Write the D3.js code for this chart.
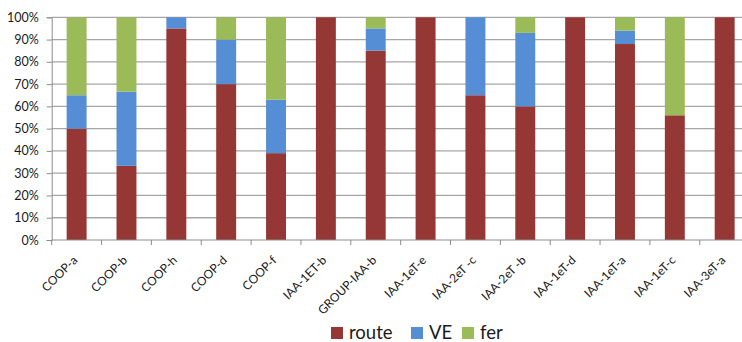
<!DOCTYPE html>
<html>
<head>
<meta charset="utf-8">
<script src="https://cdn.jsdelivr.net/npm/d3@7"></script>
<style>
  html, body { margin: 0; padding: 0; background: #fff; }
  svg { display: block; font-family: Lato, "Open Sans", sans-serif; }
</style>
</head>
<body>
<svg id="chart" width="742" height="342"></svg>
<script>
// Modal split per site (share of each mode, %)
const categories = ["COOP-a", "COOP-b", "COOP-h", "COOP-d", "COOP-f", "IAA-1ET-b", "GROUP-IAA-b",
  "IAA-1eT-e", "IAA-2eT -c", "IAA-2eT -b", "IAA-1eT-d", "IAA-1eT-a", "IAA-1eT-c", "IAA-3eT-a"];
const route = [50, 33.3, 95, 70, 39, 100, 85, 100, 65, 60, 100, 88, 56, 100];
const ve    = [15, 33.3, 5, 20, 24, 0, 10, 0, 35, 33, 0, 6, 0, 0];
const fer   = [35, 33.4, 0, 10, 37, 0, 5, 0, 0, 7, 0, 6, 44, 0];
const seriesNames = ["route", "VE", "fer"];
const seriesColors = ["#953735", "#558ED5", "#9BBB59"];
const yTicks = [0, 10, 20, 30, 40, 50, 60, 70, 80, 90, 100];

const svg = d3.select("#chart");
const plotLeft = 51.7, plotTop = 17.3, plotH = 222.7, plotW = 697.9;

const x = d3.scaleBand().domain(categories)
  .range([plotLeft, plotLeft + plotW]).paddingInner(0.6).paddingOuter(0.3);
const y = d3.scaleLinear().domain([0, 100]).range([plotTop + plotH, plotTop]);

// horizontal gridlines
svg.append("g").selectAll("line").data(yTicks.filter(t => t > 0)).join("line")
  .attr("x1", plotLeft).attr("x2", plotLeft + plotW)
  .attr("y1", d => y(d)).attr("y2", d => y(d))
  .attr("stroke", "#a6a6a6").attr("stroke-width", 1.3);

// stacked bars
const rows = categories.map((c, i) => ({ cat: c, route: route[i], VE: ve[i], fer: fer[i] }));
const stacked = d3.stack().keys(seriesNames)(rows);
svg.append("g").selectAll("g").data(stacked).join("g")
  .attr("fill", (d, i) => seriesColors[i])
  .selectAll("rect").data(d => d.filter(p => p[1] > p[0])).join("rect")
  .attr("x", d => x(d.data.cat))
  .attr("width", x.bandwidth())
  .attr("y", d => y(d[1]))
  .attr("height", d => y(d[0]) - y(d[1]));

// y axis
const yAxis = d3.axisLeft(y).tickValues(yTicks).tickFormat(d => d + "%").tickSize(5).tickPadding(8);
const gy = svg.append("g").attr("transform", `translate(${plotLeft},0)`).call(yAxis);
gy.select(".domain").attr("stroke", "#8c8c8c");
gy.selectAll(".tick line").attr("stroke", "#8c8c8c");
gy.selectAll(".tick text").attr("font-size", 12.5).attr("fill", "#1a1a1a")
  .attr("font-family", "Lato, sans-serif");

// x axis line with ticks at category boundaries
const gx = svg.append("g");
gx.append("line").attr("x1", plotLeft).attr("x2", plotLeft + plotW)
  .attr("y1", y(0)).attr("y2", y(0)).attr("stroke", "#8c8c8c");
gx.selectAll("line.tk").data(d3.range(categories.length + 1)).join("line")
  .attr("class", "tk")
  .attr("x1", i => plotLeft + i * x.step()).attr("x2", i => plotLeft + i * x.step())
  .attr("y1", y(0)).attr("y2", y(0) + 5).attr("stroke", "#8c8c8c");
gx.selectAll("text").data(categories).join("text")
  .attr("transform", d => `translate(${x(d) + x.bandwidth() / 2 + 1.5},261) rotate(-45)`)
  .attr("text-anchor", "end")
  .attr("font-size", 12).attr("fill", "#1a1a1a")
  .text(d => d);

// legend
const legendX = [331, 411, 462];
const lg = svg.append("g").selectAll("g").data(seriesNames).join("g")
  .attr("transform", (d, i) => `translate(${legendX[i]},327)`);
lg.append("rect").attr("width", 12).attr("height", 12).attr("fill", (d, i) => seriesColors[i]);
lg.append("text").attr("x", 18).attr("y", 11.8).attr("font-size", 18.5).attr("fill", "#1a1a1a").text(d => d);
</script>
</body>
</html>
